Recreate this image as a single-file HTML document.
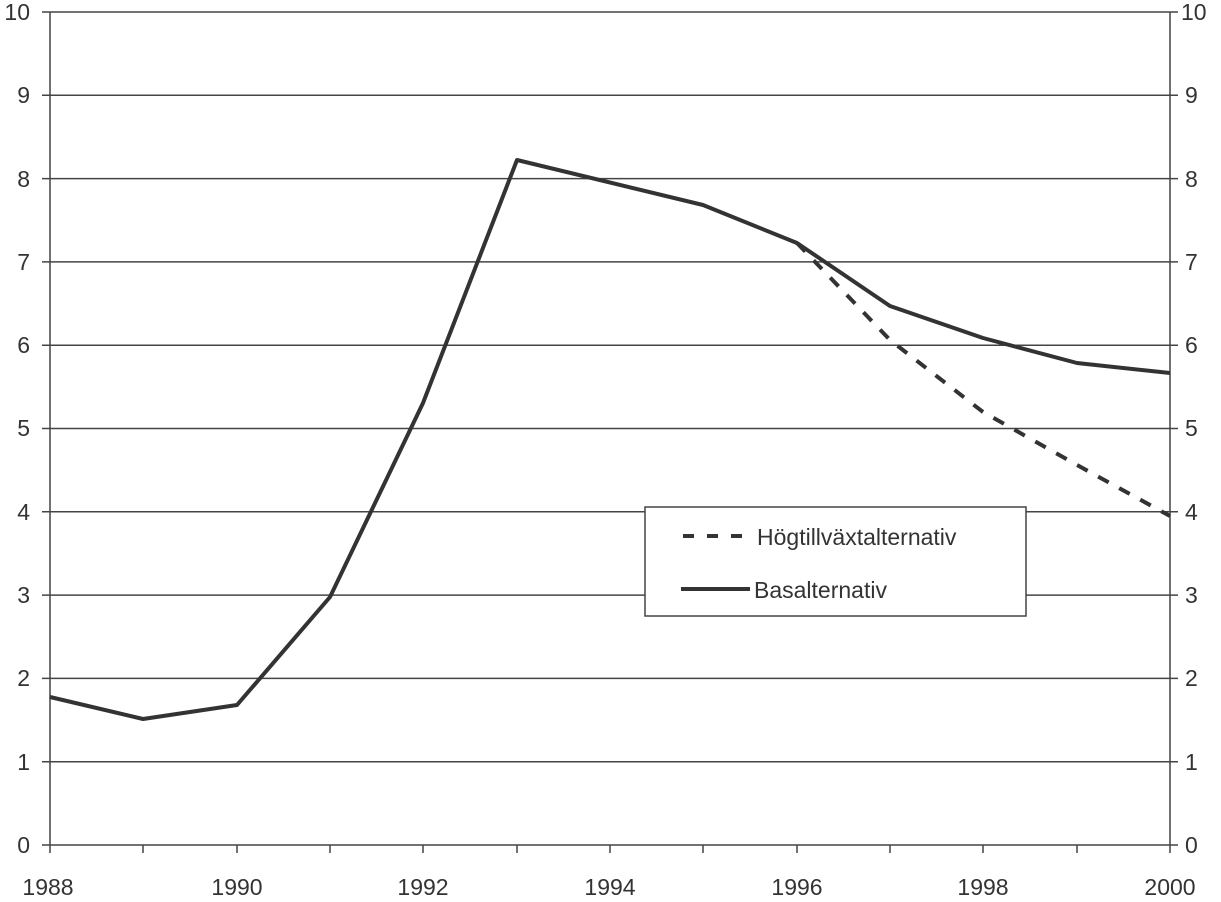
<!DOCTYPE html>
<html><head><meta charset="utf-8"><style>body{margin:0;background:#fff}svg{display:block}</style></head><body>
<svg width="1221" height="902" xmlns="http://www.w3.org/2000/svg" font-family="Liberation Sans, sans-serif" font-size="23" fill="#333">
<g stroke="#444" stroke-width="1.5">
<line x1="42" y1="12" x2="1178" y2="12"/>
<line x1="42" y1="95.3" x2="1178" y2="95.3"/>
<line x1="42" y1="178.6" x2="1178" y2="178.6"/>
<line x1="42" y1="261.9" x2="1178" y2="261.9"/>
<line x1="42" y1="345.2" x2="1178" y2="345.2"/>
<line x1="42" y1="428.5" x2="1178" y2="428.5"/>
<line x1="42" y1="511.8" x2="1178" y2="511.8"/>
<line x1="42" y1="595.1" x2="1178" y2="595.1"/>
<line x1="42" y1="678.4" x2="1178" y2="678.4"/>
<line x1="42" y1="761.7" x2="1178" y2="761.7"/>
<line x1="42" y1="845" x2="1178" y2="845"/>
<line x1="50" y1="12" x2="50" y2="853"/>
<line x1="1170" y1="12" x2="1170" y2="853"/>
<line x1="143" y1="845" x2="143" y2="853"/><line x1="237" y1="845" x2="237" y2="853"/><line x1="330" y1="845" x2="330" y2="853"/><line x1="423" y1="845" x2="423" y2="853"/><line x1="517" y1="845" x2="517" y2="853"/><line x1="610" y1="845" x2="610" y2="853"/><line x1="703" y1="845" x2="703" y2="853"/><line x1="797" y1="845" x2="797" y2="853"/><line x1="890" y1="845" x2="890" y2="853"/><line x1="983" y1="845" x2="983" y2="853"/><line x1="1077" y1="845" x2="1077" y2="853"/>
</g>
<g text-anchor="end">
<text x="30" y="20">10</text><text x="30" y="103">9</text><text x="30" y="187">8</text><text x="30" y="270">7</text><text x="30" y="353">6</text><text x="30" y="436">5</text><text x="30" y="520">4</text><text x="30" y="603">3</text><text x="30" y="686">2</text><text x="30" y="770">1</text><text x="30" y="853">0</text>
</g>
<g>
<text x="1181" y="20">10</text><text x="1185" y="103">9</text><text x="1185" y="187">8</text><text x="1185" y="270">7</text><text x="1185" y="353">6</text><text x="1185" y="436">5</text><text x="1185" y="520">4</text><text x="1185" y="603">3</text><text x="1185" y="686">2</text><text x="1185" y="770">1</text><text x="1185" y="853">0</text>
</g>
<g text-anchor="middle">
<text x="48" y="895">1988</text><text x="237" y="895">1990</text><text x="423" y="895">1992</text><text x="610" y="895">1994</text><text x="797" y="895">1996</text><text x="983" y="895">1998</text><text x="1170" y="895">2000</text>
</g>
<polyline fill="none" stroke="#333" stroke-width="4" stroke-dasharray="12,12" points="797,243 890,340 983,412 1077,465 1170,516"/>
<polyline fill="none" stroke="#333" stroke-width="4" stroke-linejoin="round" points="50,697 143,719 237,705 330,597 423,403 517,160 703,205 797,243 890,306 983,338 1077,363 1170,373"/>
<rect x="645" y="507" width="381" height="109" fill="#fff" stroke="#444" stroke-width="1.5"/>
<line x1="683" y1="536" x2="745" y2="536" stroke="#333" stroke-width="4" stroke-dasharray="11,13"/>
<line x1="681" y1="589" x2="750" y2="589" stroke="#333" stroke-width="4"/>
<text x="757" y="545">Högtillväxtalternativ</text>
<text x="754" y="598">Basalternativ</text>
</svg>
</body></html>
